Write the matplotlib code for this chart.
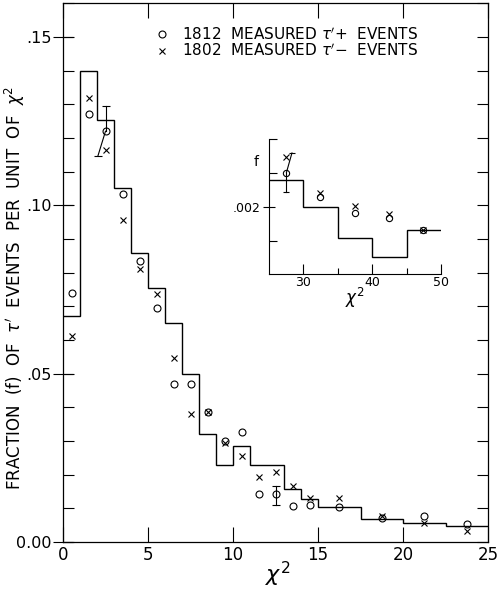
import matplotlib.pyplot as plt
from matplotlib.ticker import MultipleLocator, FixedLocator
from matplotlib.lines import Line2D

# theoretical distribution (step histogram), main panel
hist_edges = [0, 1, 2, 3, 4, 5, 6, 7, 8, 9, 10, 11, 13, 14, 15, 17.5, 20, 22.5, 25]
hist_vals = [0.0672, 0.140, 0.1253, 0.105, 0.0859, 0.0753, 0.065, 0.0499, 0.032,
             0.0229, 0.0286, 0.0229, 0.0156, 0.0128, 0.0105, 0.0067, 0.0057, 0.0046]

# measured points (bin centres)
chi2_pts = [0.5, 1.5, 2.5, 3.5, 4.5, 5.5, 6.5, 7.5, 8.5, 9.5, 10.5, 11.5, 12.5,
            13.5, 14.5, 16.25, 18.75, 21.25, 23.75]
f_plus = [0.0739, 0.1271, 0.1220, 0.1033, 0.0835, 0.0695, 0.0469, 0.0469, 0.0387,
          0.0300, 0.0328, 0.0142, 0.0142, 0.0108, 0.0110, 0.0103, 0.0071, 0.0077, 0.0053]
f_minus = [0.0612, 0.1318, 0.1164, 0.0956, 0.0811, 0.0736, 0.0547, 0.0380, 0.0387,
           0.0293, 0.0255, 0.0194, 0.0209, 0.0166, 0.0130, 0.0130, 0.0078, 0.0057, 0.0034]

# error bars on the tau'+ points (low end of first one is drawn bent)
err_x = [2.5, 12.5]
err_y = [0.1220, 0.0142]
err_hi = [0.1295, 0.0166]
err_lo = [0.1146, 0.0110]
err_lo_x = [2.05, 12.5]

# inset: chi^2 from 25 to 50
inset_edges = [25, 30, 35, 40, 45, 50]
inset_vals = [0.0024, 0.0020, 0.00154, 0.00125, 0.00165]
inset_x = [27.6, 32.5, 37.5, 42.5, 47.4]
inset_plus = [0.00251, 0.00215, 0.00191, 0.00184, 0.00165]
inset_minus = [0.00274, 0.00221, 0.00201, 0.00189, 0.00166]
inset_err_lo = 0.00222
inset_err_hi = 0.00280
inset_err_hi_x = 28.4

legend_labels = [r"1812  MEASURED $\tau^{\prime}$+  EVENTS",
                 r"1802  MEASURED $\tau^{\prime}$$-$  EVENTS"]

plt.rcParams['font.family'] = ['DejaVu Sans']
plt.rcParams['mathtext.fontset'] = 'dejavusans'

fig = plt.figure(figsize=(5, 5.9), dpi=100)
ax = fig.add_axes([0.126, 0.0814, 0.85, 0.913])

ax.stairs(hist_vals, hist_edges, baseline=None, color='k', lw=1.0)
ax.plot(chi2_pts, f_plus, 'o', ms=5, mfc='none', mec='k', mew=0.8)
ax.plot(chi2_pts, f_minus, 'x', ms=4.5, color='k', mew=0.8)

for x, y, hi, lo, lox in zip(err_x, err_y, err_hi, err_lo, err_lo_x):
    ax.plot([x, x], [y, hi], color='k', lw=0.8)
    ax.plot([x, lox], [y, lo], color='k', lw=0.8)
    ax.plot([x, lox], [hi, lo], '_', color='k', ms=6, mew=0.8)

ax.set_xlim(0, 25)
ax.set_ylim(0, 0.16)
ax.xaxis.set_major_locator(MultipleLocator(5))
ax.yaxis.set_major_locator(FixedLocator([0, 0.05, 0.10, 0.15]))
ax.yaxis.set_minor_locator(MultipleLocator(0.01))
ax.yaxis.remove_overlapping_locs = False
ax.set_yticklabels(['0.00', '.05', '.10', '.15'])
ax.tick_params(axis='x', which='major', direction='in', length=11, width=0.8,
               top=True, labelsize=12, pad=3)
ax.tick_params(axis='y', which='major', direction='inout', length=14, width=0.8,
               right=False, labelsize=11.5, pad=1)
ax.tick_params(axis='y', which='minor', direction='in', length=8, width=0.8,
               left=True, right=True)
for s in ax.spines.values():
    s.set_linewidth(0.9)

handles = [Line2D([], [], ls='none', marker='o', ms=5, mfc='none', mec='k', mew=0.8),
           Line2D([], [], ls='none', marker='x', ms=4.5, color='k', mew=0.8)]
ax.legend(handles, legend_labels, loc='upper left', bbox_to_anchor=(0.215, 0.958),
          frameon=False, fontsize=11, handlelength=1.0, handletextpad=0.8,
          borderpad=0, borderaxespad=0, labelspacing=0.02)

fig.text(0.029, 0.512,
         r"FRACTION  (f)  OF  $\tau^{\prime}$  EVENTS  PER  UNIT  OF  $\chi^2$",
         rotation=90, ha='center', va='center', fontsize=12)
fig.text(0.556, 0.026, r"$\chi^2$", ha='center', va='center', fontsize=16)

# inset
ins = fig.add_axes([0.537, 0.5351, 0.345, 0.2285])
ins.stairs(inset_vals, inset_edges, baseline=None, color='k', lw=1.0)
ins.plot(inset_x, inset_plus, 'o', ms=4.5, mfc='none', mec='k', mew=0.8)
ins.plot(inset_x, inset_minus, 'x', ms=4, color='k', mew=0.8)
ins.plot([inset_x[0], inset_x[0]], [inset_plus[0], inset_err_lo], color='k', lw=0.8)
ins.plot([inset_x[0], inset_err_hi_x], [inset_plus[0], inset_err_hi], color='k', lw=0.8)
ins.plot([inset_x[0], inset_err_hi_x], [inset_err_lo, inset_err_hi], '_', color='k',
         ms=5, mew=0.8)
ins.set_xlim(25, 50)
ins.set_ylim(0.001, 0.003)
ins.patch.set_alpha(0)
ins.spines['top'].set_visible(False)
ins.spines['right'].set_visible(False)
ins.xaxis.set_major_locator(FixedLocator([30, 40, 50]))
ins.xaxis.set_minor_locator(FixedLocator([35, 45]))
ins.yaxis.set_major_locator(FixedLocator([0.002]))
ins.yaxis.set_minor_locator(FixedLocator([0.0015, 0.0025, 0.003]))
ins.set_yticklabels(['.002'])
ins.tick_params(axis='x', which='major', direction='in', length=7, width=0.8,
                labelsize=9, pad=1)
ins.tick_params(axis='x', which='minor', direction='in', length=4, width=0.8)
ins.tick_params(axis='y', which='major', direction='inout', length=9, width=0.8,
                labelsize=9, pad=1)
ins.tick_params(axis='y', which='minor', direction='in', length=6, width=0.8)
ins.text(-0.06, 0.83, 'f', transform=ins.transAxes, ha='right', va='center', fontsize=10)
ins.text(0.5, -0.175, r"$\chi^2$", transform=ins.transAxes, ha='center', va='center',
         fontsize=12)

fig.savefig('out.png', dpi=100)
